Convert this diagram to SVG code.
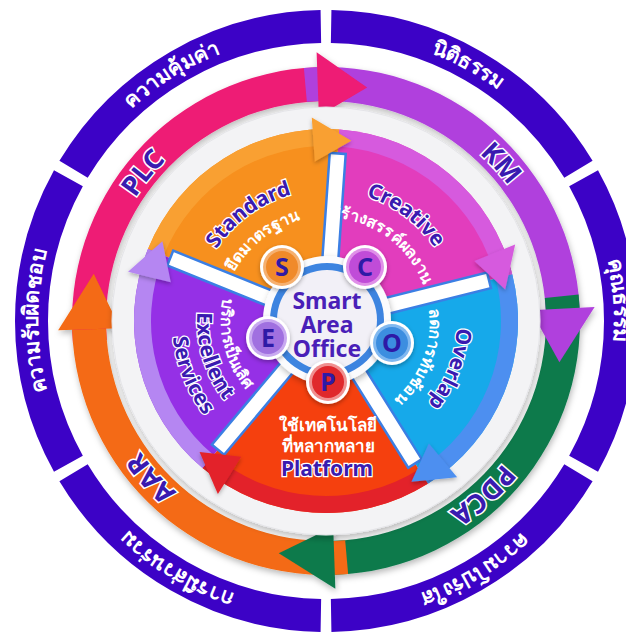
<svg xmlns="http://www.w3.org/2000/svg" width="626" height="634" viewBox="0 0 626 634">
<defs>
<filter id="sh" x="-20%" y="-20%" width="140%" height="140%">
<feDropShadow dx="1" dy="3" stdDeviation="3" flood-color="#000" flood-opacity="0.28"/>
</filter>
<filter id="sh2" x="-30%" y="-30%" width="160%" height="160%">
<feDropShadow dx="0" dy="2" stdDeviation="2" flood-color="#000" flood-opacity="0.3"/>
</filter>
<path id="o288" d="M -270.63 -98.50 A 288 288 0 0 1 270.63 -98.50"/>
<path id="a227" d="M -213.31 -77.64 A 227 227 0 0 1 213.31 -77.64"/>
<path id="w131" d="M -123.10 -44.80 A 131 131 0 0 1 123.10 -44.80"/>
<path id="w104" d="M -97.73 -35.57 A 104 104 0 0 1 97.73 -35.57"/>
<path id="c105" d="M -98.67 35.91 A 105 105 0 0 0 98.67 35.91"/>
<path id="c129" d="M -121.22 44.12 A 129 129 0 0 0 121.22 44.12"/>
<path id="c154" d="M -144.71 52.67 A 154 154 0 0 0 144.71 52.67"/>
<style>
.ring{fill:none;stroke:#3c02c6;stroke-width:33}
.ot{font-family:'Noto Sans','DejaVu Sans',sans-serif;font-weight:bold;font-size:21px;fill:#fff;text-anchor:middle}
.al{font-family:'Noto Sans','DejaVu Sans',sans-serif;font-weight:bold;font-size:27px;fill:#3a1ab0;stroke:#fff;stroke-width:3;paint-order:stroke;text-anchor:middle}
.we{font-family:'Noto Sans','DejaVu Sans',sans-serif;font-weight:bold;font-size:21px;fill:#3a1ab0;stroke:#fff;stroke-width:2.5;paint-order:stroke;text-anchor:middle}
.wt{font-family:'Noto Sans','DejaVu Sans',sans-serif;font-weight:bold;font-size:16px;fill:#fff;text-anchor:middle}
.ct{font-family:'Noto Sans','DejaVu Sans',sans-serif;font-weight:bold;font-size:23px;fill:#4a1fb8;text-anchor:middle}
.lt{font-family:'Noto Sans','DejaVu Sans',sans-serif;font-weight:bold;font-size:25px;fill:#2e1aa6;text-anchor:middle}
.gap{fill:#fff;stroke:#3b7fe4;stroke-width:2.5}
</style>
</defs>

<!-- outer ring segments -->
<g id="outer-ring">
<path class="ring" d="M 73.56 169.32 A 294.5 294.5 0 0 1 320.86 26.54"/>
<path class="ring" d="M 331.14 26.54 A 294.5 294.5 0 0 1 578.44 169.32"/>
<path class="ring" d="M 583.58 178.22 A 294.5 294.5 0 0 1 583.58 463.78"/>
<path class="ring" d="M 578.44 472.68 A 294.5 294.5 0 0 1 331.14 615.46"/>
<path class="ring" d="M 320.86 615.46 A 294.5 294.5 0 0 1 73.56 472.68"/>
<path class="ring" d="M 68.42 463.78 A 294.5 294.5 0 0 1 68.42 178.22"/>
<text class="ot" transform="translate(326 321) rotate(-32)"><textPath href="#o288" startOffset="50%">ความคุ้มค่า</textPath></text>
<text class="ot" transform="translate(326 321) rotate(29)"><textPath href="#o288" startOffset="50%">นิติธรรม</textPath></text>
<text class="ot" transform="translate(326 321) rotate(86)"><textPath href="#o288" startOffset="50%">คุณธรรม</textPath></text>
<text class="ot" transform="translate(326 321) rotate(149)"><textPath href="#o288" startOffset="50%">ความโปร่งใส</textPath></text>
<text class="ot" transform="translate(326 321) rotate(211)"><textPath href="#o288" startOffset="50%">การมีส่วนร่วม</textPath></text>
<text class="ot" transform="translate(326 321) rotate(270)"><textPath href="#o288" startOffset="50%">ความรับผิดชอบ</textPath></text>
</g>

<!-- cycle arrows (connectors) -->
<g id="connectors" filter="url(#sh)">
<path fill="#ee1b74" d="M 72.97 343.14 A 254 254 0 0 1 317.14 67.15 L 318.32 101.13 A 220 220 0 0 0 106.84 340.18 Z"/>
<path fill="#b040dd" d="M 303.86 67.97 A 254 254 0 0 1 579.65 307.71 L 545.70 309.49 A 220 220 0 0 0 306.83 101.84 Z"/>
<path fill="#0e7a4c" d="M 578.61 294.45 A 254 254 0 0 1 334.86 574.85 L 333.68 540.87 A 220 220 0 0 0 544.79 298.00 Z"/>
<path fill="#f46a12" d="M 348.14 574.03 A 254 254 0 0 1 72.15 329.86 L 106.13 328.68 A 220 220 0 0 0 345.17 540.16 Z"/>
<path fill="#ee1b74" d="M 316.61 52.16 L 367.15 87.60 L 318.85 116.12 Z"/>
<path fill="#b040dd" d="M 594.63 306.92 L 559.40 362.15 L 530.72 310.27 Z"/>
<path fill="#0e7a4c" d="M 335.35 588.84 L 278.75 553.24 L 333.19 526.87 Z"/>
<path fill="#f46a12" d="M 58.16 330.35 L 93.76 273.75 L 120.13 328.19 Z"/>
</g>
<g id="arrow-labels">
<text class="al" transform="translate(326 321) rotate(-51)"><textPath href="#a227" startOffset="50%">PLC</textPath></text>
<text class="al" transform="translate(326 321) rotate(48)"><textPath href="#a227" startOffset="50%">KM</textPath></text>
<text class="al" transform="translate(326 321) rotate(138)"><textPath href="#a227" startOffset="50%">PDCA</textPath></text>
<text class="al" transform="translate(326 321) rotate(228)"><textPath href="#a227" startOffset="50%">AAR</textPath></text>
</g>

<!-- inner light ring -->
<circle cx="326" cy="321" r="214" fill="#f3f3f5" stroke="#e4e4e8" stroke-width="1" filter="url(#sh)"/>

<!-- wedges -->
<g id="wedge-standard">
<path fill="#f7901e" d="M 326 321 L 147.98 249.08 A 192 192 0 0 1 339.39 129.47 Z"/>
<path fill="#f9a032" d="M 147.98 249.08 A 192 192 0 0 1 339.39 129.47 L 338.21 146.43 A 175 175 0 0 0 163.74 255.44 Z"/>
</g>
<g id="wedge-creative">
<path fill="#e23dbd" d="M 326 321 L 339.39 129.47 A 192 192 0 0 1 512.30 274.55 Z"/>
<path fill="#d65ade" d="M 339.39 129.47 A 192 192 0 0 1 512.30 274.55 L 495.80 278.66 A 175 175 0 0 0 338.21 146.43 Z"/>
</g>
<g id="wedge-overlap">
<path fill="#16a9ea" d="M 326 321 L 512.30 274.55 A 192 192 0 0 1 427.74 483.83 Z"/>
<path fill="#4d8ff0" d="M 512.30 274.55 A 192 192 0 0 1 427.74 483.83 L 418.74 469.41 A 175 175 0 0 0 495.80 278.66 Z"/>
</g>
<g id="wedge-platform">
<path fill="#f5400e" d="M 326 321 L 427.74 483.83 A 192 192 0 0 1 202.59 468.08 Z"/>
<path fill="#e3222a" d="M 427.74 483.83 A 192 192 0 0 1 202.59 468.08 L 213.51 455.06 A 175 175 0 0 0 418.74 469.41 Z"/>
</g>
<g id="wedge-excellent">
<path fill="#9530e6" d="M 326 321 L 202.59 468.08 A 192 192 0 0 1 147.98 249.08 Z"/>
<path fill="#b586f2" d="M 202.59 468.08 A 192 192 0 0 1 147.98 249.08 L 163.74 255.44 A 175 175 0 0 0 213.51 455.06 Z"/>
</g>

<!-- gaps -->
<g id="gaps">
<rect class="gap" x="376" y="313" width="118" height="16" transform="rotate(-86 326 321)"/>
<rect class="gap" x="376" y="313" width="118" height="16" transform="rotate(-14 326 321)"/>
<rect class="gap" x="376" y="313" width="118" height="16" transform="rotate(58 326 321)"/>
<rect class="gap" x="376" y="313" width="118" height="16" transform="rotate(130 326 321)"/>
<rect class="gap" x="376" y="313" width="118" height="16" transform="rotate(202 326 321)"/>
</g>

<!-- rim arrowheads -->
<g id="rim-heads" filter="url(#sh2)">
<path fill="#f9a032" d="M 311.77 117.50 L 351.33 140.77 L 314.84 161.39 Z"/>
<path fill="#d65ade" d="M 515.15 244.58 L 505.24 289.40 L 474.35 261.06 Z"/>
<path fill="#4d8ff0" d="M 457.13 477.27 L 411.44 481.70 L 428.85 443.57 Z"/>
<path fill="#e3222a" d="M 217.90 494.00 L 199.57 451.92 L 241.21 456.69 Z"/>
<path fill="#b586f2" d="M 128.06 271.65 L 162.42 241.22 L 170.75 282.29 Z"/>
</g>

<!-- wedge texts -->
<g id="text-standard">
<text class="we" transform="translate(326 321) rotate(-36)"><textPath href="#w131" startOffset="50%">Standard</textPath></text>
<text class="wt" transform="translate(326 321) rotate(-38)"><textPath href="#w104" startOffset="50%">ยึดมาตรฐาน</textPath></text>
</g>
<g id="text-creative">
<text class="we" transform="translate(326 321) rotate(37)"><textPath href="#w131" startOffset="50%">Creative</textPath></text>
<text class="wt" transform="translate(326 321) rotate(36)"><textPath href="#w104" startOffset="50%">สร้างสรรค์ผลงาน</textPath></text>
</g>
<g id="text-overlap">
<text class="we" transform="translate(326 321) rotate(111)"><textPath href="#w131" startOffset="50%">Overlap</textPath></text>
<text class="wt" transform="translate(326 321) rotate(111)"><textPath href="#w104" startOffset="50%">ลดการทับซ้อน</textPath></text>
</g>
<g id="text-platform">
<text class="wt" x="328" y="431" style="font-size:17px">ใช้เทคโนโลยี</text>
<text class="wt" x="328" y="452" style="font-size:17px">ที่หลากหลาย</text>
<text class="we" x="327" y="476">Platform</text>
</g>
<g id="text-excellent">
<text class="wt" transform="translate(326 321) rotate(76)"><textPath href="#c105" startOffset="50%">บริการเป็นเลิศ</textPath></text>
<text class="we" transform="translate(326 321) rotate(73)"><textPath href="#c129" startOffset="50%">Excellent</textPath></text>
<text class="we" transform="translate(326 321) rotate(68)"><textPath href="#c154" startOffset="50%">Services</textPath></text>
</g>

<!-- center -->
<g id="center">
<circle cx="327" cy="320" r="64" fill="#fbfbfd" filter="url(#sh)"/>
<circle cx="327" cy="320" r="57" fill="#3d84e0"/>
<circle cx="327" cy="320" r="50" fill="#f2f0f7"/>
<text class="ct" x="327" y="309">Smart</text>
<text class="ct" x="327" y="333">Area</text>
<text class="ct" x="327" y="357">Office</text>
</g>

<g id="node-S">
<circle cx="282" cy="267" r="22" fill="#fff" filter="url(#sh2)"/>
<circle cx="282" cy="267" r="19" fill="#f5b070"/>
<circle cx="282" cy="267" r="16" fill="#f08a2a"/>
<text class="lt" x="282" y="276">S</text>
</g>
<g id="node-C">
<circle cx="365" cy="267" r="22" fill="#fff" filter="url(#sh2)"/>
<circle cx="365" cy="267" r="19" fill="#e090e8"/>
<circle cx="365" cy="267" r="16" fill="#c04cd8"/>
<text class="lt" x="365" y="276">C</text>
</g>
<g id="node-E">
<circle cx="268" cy="338" r="22" fill="#fff" filter="url(#sh2)"/>
<circle cx="268" cy="338" r="19" fill="#c8a8f0"/>
<circle cx="268" cy="338" r="16" fill="#a070e0"/>
<text class="lt" x="268" y="347">E</text>
</g>
<g id="node-O">
<circle cx="392" cy="343" r="22" fill="#fff" filter="url(#sh2)"/>
<circle cx="392" cy="343" r="19" fill="#80b8f0"/>
<circle cx="392" cy="343" r="16" fill="#3c8ee0"/>
<text class="lt" x="392" y="352">O</text>
</g>
<g id="node-P">
<circle cx="328" cy="382" r="22" fill="#fff" filter="url(#sh2)"/>
<circle cx="328" cy="382" r="19" fill="#f09090"/>
<circle cx="328" cy="382" r="16" fill="#e0282c"/>
<text class="lt" x="328" y="391">P</text>
</g>
</svg>
